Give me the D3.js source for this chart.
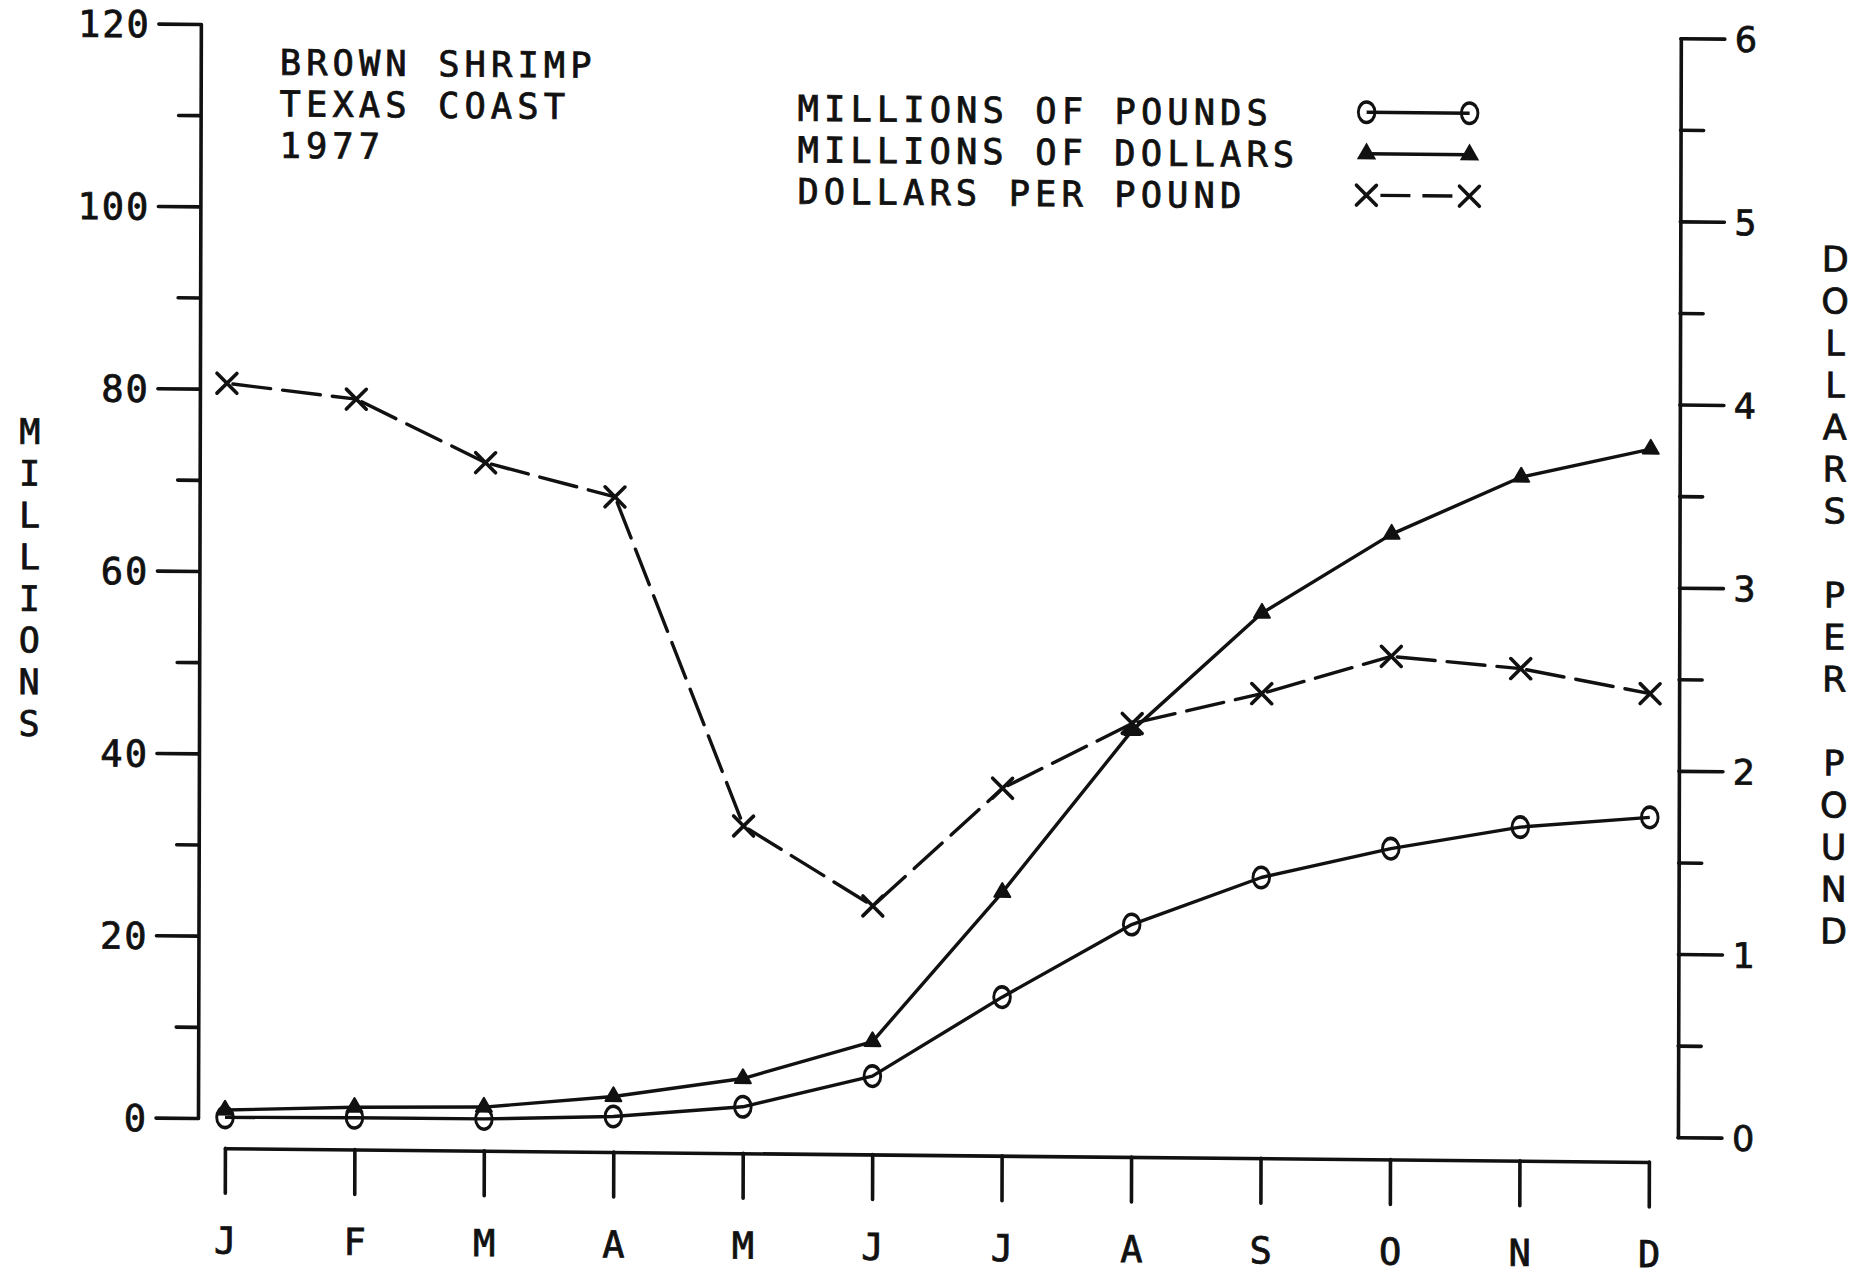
<!DOCTYPE html>
<html>
<head>
<meta charset="utf-8">
<script src="https://cdn.jsdelivr.net/npm/d3@7/dist/d3.min.js"></script>
<style>
  html, body { margin: 0; padding: 0; background: #fff; }
  svg { display: block; }
  text { fill: #111; stroke: #111; stroke-width: 0.8px; }
  .mono { font-family: "DejaVu Sans Mono", "Liberation Mono", monospace; font-feature-settings: "zero" 1; }
  .round { font-family: "DejaVu Sans", "Liberation Sans", sans-serif; }
</style>
</head>
<body>
<script>
// Monthly brown shrimp landings, Texas coast, 1977
const months = ["J", "F", "M", "A", "M", "J", "J", "A", "S", "O", "N", "D"];
const poundsMillions  = [0.1, 0.2, 0.2, 0.6, 1.8, 5.3, 14.1, 22.2, 27.5, 30.8, 33.3, 34.5];
const dollarsMillions = [0.9, 1.35, 1.5, 2.8, 4.9, 9.1, 25.6, 43.5, 56.5, 65.3, 71.7, 74.9];
const dollarsPerPound = [4.04, 3.96, 3.62, 3.44, 1.65, 1.22, 1.87, 2.23, 2.40, 2.61, 2.55, 2.42];

const leftMajorTicks  = [0, 20, 40, 60, 80, 100, 120];
const leftMinorTicks  = [10, 30, 50, 70, 90, 110];
const rightMajorTicks = [0, 1, 2, 3, 4, 5, 6];
const rightMinorTicks = [0.5, 1.5, 2.5, 3.5, 4.5, 5.5];

const titleLines   = ["BROWN SHRIMP", "TEXAS COAST", "1977"];
const legendLabels = ["MILLIONS OF POUNDS", "MILLIONS OF DOLLARS", "DOLLARS PER POUND"];
const leftTitle  = "MILLIONS";
const rightTitle = "DOLLARS PER POUND";

const W = 1860, H = 1276;
const INK = "#111";

const svg = d3.select("body").append("svg")
  .attr("width", W).attr("height", H)
  .attr("viewBox", `0 0 ${W} ${H}`);

svg.append("rect").attr("width", W).attr("height", H).attr("fill", "#fff");

// the whole plot frame sits at a slight slant
const frame = svg.append("g")
  .attr("transform", "translate(198,1118) skewX(-0.15) skewY(0.55) translate(-198,-1118)");

// scales
const x = d3.scaleLinear().domain([0, months.length - 1]).range([225, 1649]);
const yLeft = d3.scaleLinear().domain([0, 120]).range([1118, 24]);
const yRight = d3.scaleLinear().domain([0, 6]).range([1123, 24]);

const axisLeftX = 198, axisRightX = 1678, axisBottomY = 1148;

function styleAxis(g) {
  g.selectAll("path.domain").attr("stroke", INK).attr("stroke-width", 3.6).attr("stroke-linecap", "round");
  g.selectAll(".tick line").attr("stroke", INK).attr("stroke-width", 3.6).attr("stroke-linecap", "round");
}

// left axis: major ticks with labels, minor ticks between
const gLeft = frame.append("g").attr("transform", `translate(${axisLeftX},0)`);
gLeft.call(d3.axisLeft(yLeft).tickValues(leftMajorTicks).tickSize(42).tickSizeOuter(0).tickPadding(10)
  .tickFormat(d3.format("d")));
gLeft.append("g").call(d3.axisLeft(yLeft).tickValues(leftMinorTicks).tickSize(22).tickFormat(""))
  .select("path.domain").remove();
styleAxis(gLeft);
gLeft.selectAll("text")
  .attr("class", "mono")
  .attr("font-size", 37)
  .attr("letter-spacing", 2)
  .attr("dx", 2)
  .attr("dy", "0.36em")
  .attr("fill", INK);

// right axis
const gRight = frame.append("g").attr("transform", `translate(${axisRightX},0)`);
gRight.call(d3.axisRight(yRight).tickValues(rightMajorTicks).tickSize(44).tickSizeOuter(0).tickPadding(10)
  .tickFormat(d3.format("d")));
gRight.append("g").call(d3.axisRight(yRight).tickValues(rightMinorTicks).tickSize(23).tickFormat(""))
  .select("path.domain").remove();
styleAxis(gRight);
gRight.selectAll("text")
  .attr("class", "round")
  .attr("font-size", 35)
  .attr("dy", "0.36em")
  .attr("fill", INK);

// bottom axis: months
const gBottom = frame.append("g").attr("transform", `translate(0,${axisBottomY})`);
gBottom.call(d3.axisBottom(x).tickValues(d3.range(months.length)).tickSize(45).tickSizeOuter(0).tickPadding(34)
  .tickFormat(i => months[i]));
styleAxis(gBottom);
gBottom.selectAll("text")
  .attr("class", "mono")
  .attr("font-size", 37)
  .attr("fill", INK);

// series lines
const lineLeft = d3.line().x((d, i) => x(i)).y(d => yLeft(d));

const plot = frame.append("g");

plot.append("path").datum(poundsMillions)
  .attr("d", lineLeft).attr("fill", "none").attr("stroke", INK).attr("stroke-width", 3.4)
  .attr("stroke-linejoin", "round");

plot.append("path").datum(dollarsMillions)
  .attr("d", lineLeft).attr("fill", "none").attr("stroke", INK).attr("stroke-width", 3.4)
  .attr("stroke-linejoin", "round");

// price line: each segment dashed on its own so the pattern restarts at every point
const priceSegments = d3.pairs(dollarsPerPound.map((v, i) => [x(i), yRight(v)]));
plot.append("g").selectAll("path").data(priceSegments).join("path")
  .attr("d", d => d3.line()(d))
  .attr("fill", "none").attr("stroke", INK).attr("stroke-width", 3.4)
  .attr("stroke-dasharray", "38,12").attr("stroke-dashoffset", -6)
  .attr("stroke-linecap", "round");

// markers
const circleSym = d3.symbol(d3.symbolCircle, 300);
const triSym = d3.symbol(d3.symbolTriangle, 110);
const xSym = d3.symbol(d3.symbolX, 260);

plot.append("g").selectAll("path").data(poundsMillions).join("path")
  .attr("transform", (d, i) => `translate(${x(i)},${yLeft(d)}) scale(0.85,1.05)`)
  .attr("d", circleSym).attr("fill", "none").attr("stroke", INK).attr("stroke-width", 3.4);

plot.append("g").selectAll("path").data(dollarsMillions).join("path")
  .attr("transform", (d, i) => `translate(${x(i)},${yLeft(d)})`)
  .attr("d", triSym).attr("fill", INK).attr("stroke", INK).attr("stroke-width", 2)
  .attr("stroke-linejoin", "round");

plot.append("g").selectAll("path").data(dollarsPerPound).join("path")
  .attr("transform", (d, i) => `translate(${x(i)},${yRight(d)})`)
  .attr("d", xSym).attr("fill", "none").attr("stroke", INK).attr("stroke-width", 3.6)
  .attr("stroke-linecap", "round");

// title block, one text element with a line per tspan
const lineStep = 41.5;
const blockFont = 35.4, blockSpacing = 5.1;
const title = frame.append("text")
  .attr("class", "mono")
  .attr("x", 277).attr("y", 74)
  .attr("font-size", blockFont).attr("letter-spacing", blockSpacing);
title.selectAll("tspan").data(titleLines).join("tspan")
  .attr("x", 277).attr("dy", (d, i) => i === 0 ? 0 : lineStep)
  .text(d => d);

// legend
const legendX = 795, legendBase = 115;
const legend = frame.append("g");
const legendText = legend.append("text")
  .attr("class", "mono")
  .attr("x", legendX).attr("y", legendBase)
  .attr("font-size", blockFont).attr("letter-spacing", blockSpacing);
legendText.selectAll("tspan").data(legendLabels).join("tspan")
  .attr("x", legendX).attr("dy", (d, i) => i === 0 ? 0 : lineStep)
  .text(d => d);

const symX0 = 1364, symX1 = 1467;
const symY = i => legendBase + i * lineStep - 14;

legend.append("line").attr("x1", symX0).attr("x2", symX1).attr("y1", symY(0)).attr("y2", symY(0))
  .attr("stroke", INK).attr("stroke-width", 3.4);
legend.append("line").attr("x1", symX0).attr("x2", symX1).attr("y1", symY(1)).attr("y2", symY(1))
  .attr("stroke", INK).attr("stroke-width", 3.4);
legend.append("line").attr("x1", symX0 + 14).attr("x2", symX1 - 14).attr("y1", symY(2)).attr("y2", symY(2))
  .attr("stroke", INK).attr("stroke-width", 3.4)
  .attr("stroke-dasharray", "30,12");

[symX0, symX1].forEach(sx => {
  legend.append("path").attr("transform", `translate(${sx},${symY(0)}) scale(0.85,1.05)`)
    .attr("d", circleSym).attr("fill", "none").attr("stroke", INK).attr("stroke-width", 3.4);
  legend.append("path").attr("transform", `translate(${sx},${symY(1)})`)
    .attr("d", triSym).attr("fill", INK).attr("stroke", INK).attr("stroke-width", 2);
  legend.append("path").attr("transform", `translate(${sx},${symY(2)})`)
    .attr("d", xSym).attr("fill", "none").attr("stroke", INK).attr("stroke-width", 3.6)
    .attr("stroke-linecap", "round");
});

// stacked vertical axis titles
frame.append("g").selectAll("text").data(leftTitle.split("")).join("text")
  .attr("class", "mono")
  .attr("x", 28).attr("y", (d, i) => 433 + i * 41.7)
  .attr("text-anchor", "middle").attr("dy", "0.36em")
  .attr("font-size", 35)
  .text(d => d);

frame.append("g").selectAll("text").data(rightTitle.split("")).join("text")
  .attr("class", "round")
  .attr("x", 1833).attr("y", (d, i) => 243 + i * 42)
  .attr("text-anchor", "middle").attr("dy", "0.36em")
  .attr("font-size", 35)
  .text(d => d);
</script>
</body>
</html>
